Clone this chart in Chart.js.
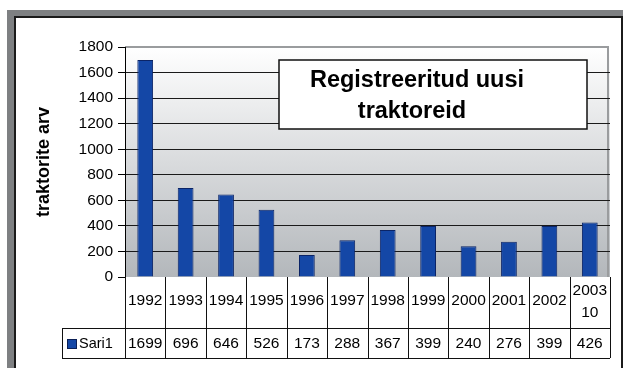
<!DOCTYPE html>
<html>
<head>
<meta charset="utf-8">
<script src="https://cdn.jsdelivr.net/npm/chart.js@4/dist/chart.umd.min.js"></script>
<style>
    html, body { margin: 0; padding: 0; background: #fff; }
    #wrap { width: 623px; height: 368px; }
</style>
</head>
<body>
<div id="wrap"><canvas id="myChart" width="623" height="368"></canvas></div>
<script>
// andmed
const years = ['1992', '1993', '1994', '1995', '1996', '1997', '1998', '1999', '2000', '2001', '2002', ['2003', '10']];
const sari1 = [1699, 696, 646, 526, 173, 288, 367, 399, 240, 276, 399, 426];
const seriesName = 'Sari1';
const titleLines = ['Registreeritud uusi', 'traktoreid'];
const yTitle = 'traktorite arv';

const FONT = "'Liberation Sans', Arial, sans-serif";
const barColor = '#1447a6';

// raam ja joonise taust
const framePlugin = {
    id: 'frame',
    beforeDraw(chart) {
        const ctx = chart.ctx;
        const a = chart.chartArea;
        ctx.save();
        ctx.fillStyle = '#fff';
        ctx.fillRect(0, 0, chart.width, chart.height);
        ctx.fillStyle = '#7e8082';
        ctx.fillRect(7, 10, chart.width - 7, 7);
        ctx.fillRect(7, 10, 7, chart.height - 10);
        ctx.strokeStyle = '#1b1b1b';
        ctx.lineWidth = 2;
        ctx.beginPath();
        ctx.moveTo(15, chart.height);
        ctx.lineTo(15, 17);
        ctx.lineTo(622, 17);
        ctx.lineTo(622, chart.height);
        ctx.stroke();

        const g = ctx.createLinearGradient(0, a.top, 0, a.bottom);
        g.addColorStop(0, '#ffffff');
        g.addColorStop(1, '#b3b7bb');
        ctx.fillStyle = g;
        ctx.fillRect(a.left, a.top, a.right - a.left, a.bottom - a.top);
        ctx.strokeStyle = '#9a9c9e';
        ctx.lineWidth = 2;
        ctx.beginPath();
        ctx.moveTo(a.left, a.top);
        ctx.lineTo(a.right - 2, a.top);
        ctx.lineTo(a.right - 2, a.bottom);
        ctx.stroke();
        ctx.restore();
    }
};

// andmetabel x-telje all
const tablePlugin = {
    id: 'dataTable',
    afterDraw(chart) {
        const ctx = chart.ctx;
        const x = chart.scales.x;
        const a = chart.chartArea;
        const n = years.length;
        const w = (x.right - x.left) / n;
        const row1 = a.bottom;
        const row2 = row1 + 51;
        const row3 = row2 + 30;
        const legendLeft = 62;

        ctx.save();
        ctx.fillStyle = '#fff';
        ctx.fillRect(x.left, row1, x.right - x.left, row3 - row1);
        ctx.fillRect(legendLeft, row2, x.left - legendLeft, row3 - row2);

        ctx.strokeStyle = '#111';
        ctx.lineWidth = 1;
        ctx.beginPath();
        for (let i = 0; i <= n; i++) {
            const px = Math.round(x.left + i * w) + 0.5;
            ctx.moveTo(px, row1);
            ctx.lineTo(px, row3);
        }
        ctx.moveTo(legendLeft + 0.5, row2);
        ctx.lineTo(legendLeft + 0.5, row3);
        ctx.moveTo(legendLeft, row2 + 0.5);
        ctx.lineTo(x.right, row2 + 0.5);
        ctx.moveTo(legendLeft, row3 + 0.5);
        ctx.lineTo(x.right, row3 + 0.5);
        ctx.stroke();

        ctx.fillStyle = '#000';
        ctx.textAlign = 'center';
        ctx.textBaseline = 'middle';
        ctx.font = '15.5px ' + FONT;
        years.forEach((lbl, i) => {
            const cx = x.getPixelForValue(i);
            if (Array.isArray(lbl)) {
                ctx.fillText(lbl[0], cx, row1 + 14);
                ctx.fillText(lbl[1], cx, row1 + 36);
            } else {
                ctx.fillText(lbl, cx, row1 + 24);
            }
            ctx.fillText(String(sari1[i]), cx, row2 + 16);
        });

        // legendi ruut
        ctx.fillStyle = barColor;
        ctx.fillRect(67, row2 + 11, 10, 10);
        ctx.strokeStyle = '#0b1f55';
        ctx.strokeRect(67.5, row2 + 11.5, 9, 9);
        ctx.fillStyle = '#000';
        ctx.textAlign = 'left';
        ctx.font = '14.5px ' + FONT;
        ctx.fillText(seriesName, 79, row2 + 16);

        // pealkirja kast
        const bx = 279, by = 60, bw = 308, bh = 69;
        ctx.fillStyle = '#fff';
        ctx.fillRect(bx, by, bw, bh);
        ctx.strokeStyle = '#111';
        ctx.lineWidth = 1.5;
        ctx.strokeRect(bx, by, bw, bh);
        ctx.fillStyle = '#000';
        ctx.textAlign = 'center';
        ctx.textBaseline = 'alphabetic';
        ctx.font = 'bold 23.5px ' + FONT;
        ctx.fillText(titleLines[0], bx + bw / 2 - 16, by + 27);
        ctx.fillText(titleLines[1], bx + bw / 2 - 21, by + 58);
        ctx.restore();
    }
};

new Chart(document.getElementById('myChart'), {
    type: 'bar',
    data: {
        labels: years,
        datasets: [{
            label: seriesName,
            data: sari1,
            backgroundColor: barColor,
            borderColor: '#0b2466',
            borderWidth: 1,
            borderSkipped: 'bottom',
            categoryPercentage: 1,
            barPercentage: 0.39
        }]
    },
    options: {
        responsive: false,
        animation: false,
        layout: { padding: { left: 15, top: 47, right: 13, bottom: 91 } },
        plugins: {
            legend: { display: false },
            tooltip: { enabled: false }
        },
        scales: {
            x: { display: false },
            y: {
                min: 0,
                max: 1800,
                afterFit(scale) { scale.width = 110; },
                ticks: {
                    stepSize: 200,
                    color: '#000',
                    padding: 5,
                    font: { family: FONT, size: 15.5 },
                    callback: (v) => String(v)
                },
                grid: {
                    color: (c) => c.tick && c.tick.value === 1800 ? 'rgba(0,0,0,0)' : '#1a1a1a',
                    tickColor: '#000',
                    tickLength: 7,
                    lineWidth: 1
                },
                border: { color: '#000', width: 1 },
                title: {
                    display: true,
                    text: yTitle,
                    color: '#000',
                    font: { family: FONT, size: 18, weight: 'bold' },
                    padding: { top: 18, bottom: 0 }
                }
            }
        }
    },
    plugins: [framePlugin, tablePlugin]
});
</script>
</body>
</html>
